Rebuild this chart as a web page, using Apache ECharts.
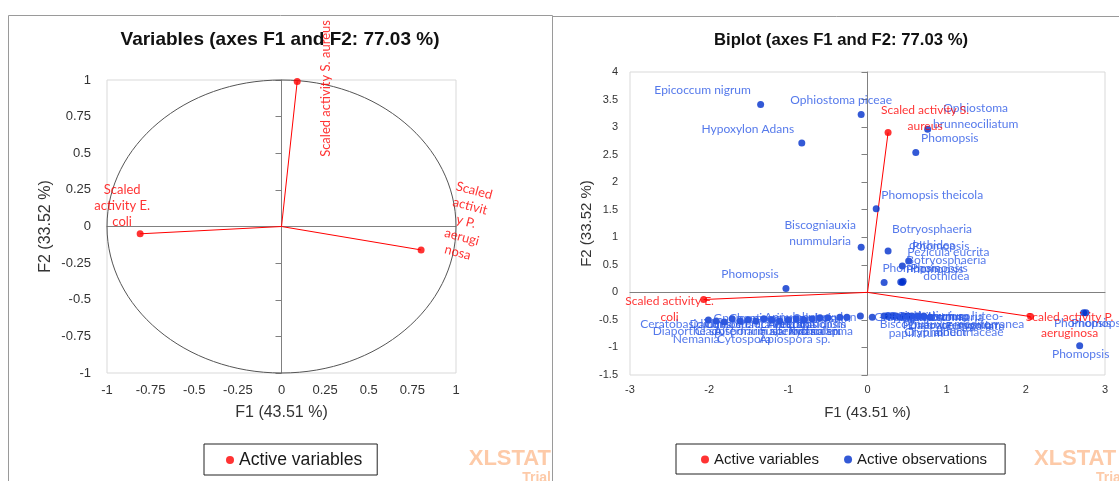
<!DOCTYPE html>
<html><head><meta charset="utf-8">
<script src="https://cdn.jsdelivr.net/npm/echarts@6/dist/echarts.min.js"></script>
<style>html,body{margin:0;padding:0;background:#fff}#c{width:1119px;height:481px}</style>
</head><body><div id="c"></div>
<script>
// ---------------- DATA ----------------
const varNames = ['Scaled activity S. aureus', 'Scaled activity E. coli', 'Scaled activity P. aeruginosa'];
// correlation circle coordinates
const varF1 = [0.09, -0.81, 0.80];
const varF2 = [0.99, -0.05, -0.16];
// biplot coordinates of the variables
const bipVarF1 = [0.26, -2.07, 2.06];
const bipVarF2 = [2.90, -0.13, -0.44];
const circleRadius = [1];

const obsNames = [
  'Epicoccum nigrum', 'Ophiostoma piceae', 'Hypoxylon Adans', 'Ophiostoma\nbrunneociliatum', 'Phomopsis',
  'Phomopsis theicola', 'Biscogniauxia\nnummularia', 'Botryosphaeria\ndothidea', 'Phomopsis', 'Pezicula eucrita',
  'Phomopsis', 'Phomopsis', 'Botryosphaeria\ndothidea', 'Phomopsis', 'Phomopsis',
  'Phomopsis', 'Phomopsis', 'Phomopsis',
  'Ceratobasidium sp.', 'Diaporthe sp.', 'Nemania', 'Gnomoniopsis sp.', 'Cytospora',
  'Coniochaeta velutina', 'Alternaria alternata', 'Apiospora sp.', 'Chaetomium globosum', 'Pestalotiopsis',
  'Trichoderma', 'Fusarium solani', 'Penicillium sp.', 'Sordaria', 'Cladosporium sp.',
  'Daldinia sp.', 'Xylaria sp.', 'Aureobasidium', 'Annulohypoxylon',
  'Graphium', 'Coniothyrium sp.', 'Coniothyrium luteo-\nalbum', 'Biscogniauxia mediterranea', 'Hypoxylon\npapillatum',
  'Diatrype stigma', 'Cryphonectriaceae', 'Graphostroma', 'Phaeoacremonium', 'Kretzschmaria',
  'Lophiostoma', 'Eutypa lata'
];
const obsF1 = [
  -1.35, -0.08, -0.83, 0.76, 0.61,
  0.11, -0.08, 0.26, 0.52, 0.44,
  0.21, 0.42, 0.44, 0.45, -1.03,
  2.73, 2.76, 2.68,
  -2.01, -1.91, -1.81, -1.71, -1.61,
  -1.51, -1.41, -1.31, -1.21, -1.11,
  -1.00, -0.90, -0.80, -0.70, -0.60,
  -0.50, -0.35, -0.26, -0.09,
  0.06, 0.21, 0.26, 0.31, 0.36,
  0.41, 0.46, 0.51, 0.56, 0.64,
  0.71, 0.79
];
const obsF2 = [
  3.41, 3.23, 2.71, 2.96, 2.54,
  1.52, 0.82, 0.75, 0.57, 0.48,
  0.18, 0.19, 0.18, 0.20, 0.07,
  -0.37, -0.37, -0.97,
  -0.50, -0.52, -0.54, -0.48, -0.52,
  -0.50, -0.52, -0.48, -0.50, -0.52,
  -0.50, -0.48, -0.50, -0.48, -0.46,
  -0.46, -0.45, -0.45, -0.43,
  -0.45, -0.43, -0.43, -0.43, -0.43,
  -0.45, -0.43, -0.43, -0.43, -0.43,
  -0.43, -0.45
];

const corrXTicks = {min: -1, max: 1, interval: 0.25};
const corrYTicks = {min: -1, max: 1, interval: 0.25};
const bipXTicks = {min: -3, max: 3, interval: 1};
const bipYTicks = {min: -1.5, max: 4, interval: 0.5};

// ---------------- LAYOUT / STYLE ----------------
const corrLabelText = ['Scaled activity S. aureus', 'Scaled\nactivity E.\ncoli', 'Scaled\nactivit\ny P.\naerugi\nnosa'];
const corrLabelOffset = [[-7, 29], [-18, -28], [36, -39]];
const corrLabelRotate = [90, 0, -15];
const bipVarLabelText = ['Scaled activity S.\naureus', 'Scaled activity E.\ncoli', 'Scaled activity P.\naeruginosa'];
const bipVarLabelOffset = [[37, -14], [-34, 10], [39, 9]];
const obsLabelOffset = [
  [-58, -14], [-20, -14], [-54, -14], [48, -13], [34, -14],
  [56, -14], [-41, -14], [44, -14], [32, -15], [46, -14],
  [27, -14], [34, -13], [44, -14], [36, -13], [-36, -14],
  [-1, 10], [14, 10], [1, 8],
  [-18, 4], [-28, 10], [-28, 17], [28, -1], [4, 18],
  [12, 4], [9, 10], [31, 20], [18, -2], [30, 3],
  [32, 11], [4, 12], [-29, 4], [3, -1], [-80, 13],
  [-108, 6], [-25, 14], [-40, 7], [-50, 1],
  [28, 0], [44, 0], [62, 8], [60, 8], [20, 9],
  [50, 8], [50, 16], [18, 0], [40, 9], [28, 1],
  [10, 1], [45, 9]
];

const RED = '#ff0000', BLUE_DOT = '#0030cc', BLUE_TXT = '#2a58e6';
const SANS = "'Liberation Sans', Arial, sans-serif";
const LBL = "Lato, 'Noto Sans', sans-serif";

function labelAxes(grid, xr, yr, fs, xm, ym, xGap, yGap, nfs) {
  return {
    x: {gridIndex: grid, type: 'value', min: xr.min, max: xr.max, interval: xr.interval, position: 'bottom',
      axisLine: {show: false, onZero: false}, axisTick: {show: false}, splitLine: {show: false},
      axisLabel: {fontSize: fs, color: '#333', margin: xm, fontFamily: SANS},
      name: 'F1 (43.51 %)', nameLocation: 'middle', nameGap: xGap,
      nameTextStyle: {fontSize: nfs, color: '#333', fontFamily: SANS}},
    y: {gridIndex: grid, type: 'value', min: yr.min, max: yr.max, interval: yr.interval, position: 'left',
      axisLine: {show: false, onZero: false}, axisTick: {show: false}, splitLine: {show: false},
      axisLabel: {fontSize: fs, color: '#333', margin: ym, fontFamily: SANS},
      name: 'F2 (33.52 %)', nameLocation: 'middle', nameGap: yGap,
      nameTextStyle: {fontSize: nfs, color: '#333', fontFamily: SANS}}
  };
}
function zeroAxes(grid, xr, yr) {
  return {
    x: {gridIndex: grid, type: 'value', min: xr.min, max: xr.max, interval: xr.interval, position: 'top',
      axisLine: {show: true, onZero: true, lineStyle: {color: '#808080', width: 1}},
      axisTick: {show: false}, axisLabel: {show: false}, splitLine: {show: false}},
    y: {gridIndex: grid, type: 'value', min: yr.min, max: yr.max, interval: yr.interval, position: 'right',
      axisLine: {show: true, onZero: true, lineStyle: {color: '#808080', width: 1}},
      axisTick: {show: true, inside: true, length: 6, lineStyle: {color: '#808080'}},
      axisLabel: {show: false}, splitLine: {show: false}}
  };
}
const la = labelAxes(0, corrXTicks, corrYTicks, 13, 11, 16, 32, 53, 16);
const za = zeroAxes(0, corrXTicks, corrYTicks);
const lb = labelAxes(1, bipXTicks, bipYTicks, 11, 9, 12, 30, 36, 15);
const zb = zeroAxes(1, bipXTicks, bipYTicks);

function vectorSeries(xi, yi, xs, ys) {
  return {
    type: 'custom', xAxisIndex: xi, yAxisIndex: yi, silent: true, z: 3,
    data: xs.map((x, i) => [x, ys[i]]),
    renderItem: function (params, api) {
      const o = api.coord([0, 0]);
      const p = api.coord([api.value(0), api.value(1)]);
      return {type: 'line', shape: {x1: o[0], y1: o[1], x2: p[0], y2: p[1]},
        style: {stroke: RED, lineWidth: 1}};
    }
  };
}

const option = {
  animation: false,
  backgroundColor: '#fff',
  grid: [
    {left: 107, top: 80, width: 349, height: 293, show: true, borderColor: '#d9d9d9', borderWidth: 1, outerBoundsMode: 'none'},
    {left: 630, top: 72, width: 475, height: 303, show: true, borderColor: '#d9d9d9', borderWidth: 1, outerBoundsMode: 'none'}
  ],
  xAxis: [la.x, za.x, lb.x, zb.x],
  yAxis: [la.y, za.y, lb.y, zb.y],
  legend: [
    {data: ['Active variables'], left: 204, top: 444, padding: [7, 15, 6, 22], borderColor: '#222', borderWidth: 1,
      itemWidth: 8, itemHeight: 8, icon: 'circle', selectedMode: false,
      textStyle: {fontSize: 17.6, color: '#1a1a1a', fontFamily: SANS}},
    {data: ['Active variables', 'Active observations'], left: 676, top: 444, padding: [8, 18, 7, 25], itemGap: 25,
      borderColor: '#222', borderWidth: 1, itemWidth: 8, itemHeight: 8, icon: 'circle', selectedMode: false,
      textStyle: {fontSize: 15, color: '#1a1a1a', fontFamily: SANS}}
  ],
  graphic: [
    {type: 'rect', shape: {x: 8.5, y: 15.5, width: 544, height: 500}, style: {fill: 'none', stroke: '#9a9a9a', lineWidth: 1}, silent: true},
    {type: 'rect', shape: {x: 552.5, y: 16.5, width: 600, height: 500}, style: {fill: 'none', stroke: '#9a9a9a', lineWidth: 1}, silent: true},
    {type: 'text', x: 280, y: 40, style: {text: 'Variables (axes F1 and F2: 77.03 %)', fill: '#111',
      font: "bold 19px " + SANS, textAlign: 'center', textVerticalAlign: 'middle'}, silent: true},
    {type: 'text', x: 841, y: 40, style: {text: 'Biplot (axes F1 and F2: 77.03 %)', fill: '#111',
      font: "bold 16.7px " + SANS, textAlign: 'center', textVerticalAlign: 'middle'}, silent: true},
    {type: 'text', x: 551, y: 459, style: {text: 'XLSTAT', fill: '#fdcaa8', font: "bold 22px " + SANS, textAlign: 'right', textVerticalAlign: 'middle'}, silent: true},
    {type: 'text', x: 551, y: 478, style: {text: 'Trial', fill: '#fdcaa8', font: "bold 14px " + SANS, textAlign: 'right', textVerticalAlign: 'middle'}, silent: true},
    {type: 'text', x: 1034, y: 459, style: {text: 'XLSTAT', fill: '#fdcaa8', font: "bold 22px " + SANS, textAlign: 'left', textVerticalAlign: 'middle'}, silent: true},
    {type: 'text', x: 1096, y: 478, style: {text: 'Trial', fill: '#fdcaa8', font: "bold 14px " + SANS, textAlign: 'left', textVerticalAlign: 'middle'}, silent: true}
  ],
  series: [
    {
      type: 'custom', xAxisIndex: 0, yAxisIndex: 0, silent: true, z: 2,
      data: [circleRadius],
      renderItem: function (params, api) {
        const c = api.coord([0, 0]);
        const r = api.value(0);
        const ex = api.coord([r, 0]);
        const ey = api.coord([0, r]);
        return {type: 'ellipse', shape: {cx: c[0], cy: c[1], rx: ex[0] - c[0], ry: c[1] - ey[1]},
          style: {fill: 'none', stroke: '#555', lineWidth: 1}};
      }
    },
    vectorSeries(0, 0, varF1, varF2),
    {
      name: 'Active variables', type: 'scatter', xAxisIndex: 0, yAxisIndex: 0, z: 5,
      symbol: 'circle', symbolSize: 7, itemStyle: {color: RED},
      data: varNames.map((n, i) => ({name: n, value: [varF1[i], varF2[i]],
        label: {formatter: corrLabelText[i], offset: corrLabelOffset[i], rotate: corrLabelRotate[i]}})),
      label: {show: true, position: 'inside', color: RED, fontSize: 13, lineHeight: 16, fontFamily: LBL, align: 'center', verticalAlign: 'middle'}
    },
    vectorSeries(2, 2, bipVarF1, bipVarF2),
    {
      name: 'Active observations', type: 'scatter', xAxisIndex: 2, yAxisIndex: 2, z: 4,
      symbol: 'circle', symbolSize: 7, itemStyle: {color: BLUE_DOT},
      data: obsNames.map((n, i) => ({name: n, value: [obsF1[i], obsF2[i]], label: {offset: obsLabelOffset[i]}})),
      label: {show: true, position: 'inside', formatter: '{b}', color: BLUE_TXT, fontSize: 12, lineHeight: 16, fontFamily: LBL, align: 'center', verticalAlign: 'middle'}
    },
    {
      name: 'Active variables', type: 'scatter', xAxisIndex: 2, yAxisIndex: 2, z: 5,
      symbol: 'circle', symbolSize: 7, itemStyle: {color: RED},
      data: varNames.map((n, i) => ({name: n, value: [bipVarF1[i], bipVarF2[i]],
        label: {formatter: bipVarLabelText[i], offset: bipVarLabelOffset[i]}})),
      label: {show: true, position: 'inside', color: RED, fontSize: 12, lineHeight: 16, fontFamily: LBL, align: 'center', verticalAlign: 'middle'}
    }
  ]
};
const chart = echarts.init(document.getElementById('c'));
chart.setOption(option);
</script></body></html>
